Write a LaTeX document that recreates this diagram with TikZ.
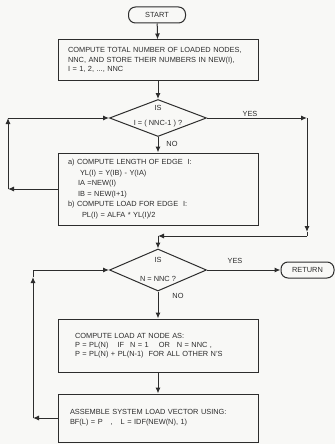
\documentclass[tikz,border=0pt]{standalone}
\usepackage{fontspec}
\setmainfont{Liberation Sans}
\usetikzlibrary{shapes.geometric,arrows.meta}
\definecolor{ink}{RGB}{45,45,45}
\definecolor{paper}{RGB}{248,248,246}
\begin{document}
\begin{tikzpicture}[x=1pt,y=-1pt,line width=1pt,
  txt/.style={font=\fontsize{7.4}{9.2}\selectfont,text=ink},
  box/.style={txt,draw=ink,rectangle,minimum width=200pt,inner sep=0pt,align=left},
  term/.style={txt,draw=ink,rectangle,rounded corners=7pt,inner sep=0pt,minimum height=16pt},
  dec/.style={draw=ink,diamond,inner sep=0pt,minimum width=97pt},
  lbl/.style={txt,inner sep=0pt},
  arr/.style={draw=ink,-{Latex[length=6pt,width=5pt]}},
  ln/.style={draw=ink}]
\fill[paper] (0,0) rectangle (335,444);
\useasboundingbox (0,0) rectangle (335,444);

% nodes
\node[term,minimum width=57pt] (start) at (157,15) {START};
\node[box,minimum height=40pt,text width=180pt] (b1) at (158,60)
  {COMPUTE TOTAL NUMBER OF LOADED NODES,\\
   NNC, AND STORE THEIR NUMBERS IN NEW(I),\\
   I = 1, 2, ..., NNC};
\node[dec,minimum height=37pt] (d1) at (158,118) {};
\node[lbl] (d1a) at (158,108) {IS};
\node[lbl] (d1b) at (158,124) {I = ( NNC-1 ) ?};
\node[box,minimum height=72pt,text width=180pt,font=\fontsize{7.4}{10.6}\selectfont] (b2) at (158,189)
  {a) COMPUTE LENGTH OF EDGE\ \ I:\\
   \hspace*{12pt}YL(I) = Y(IB) - Y(IA)\\
   \hspace*{10pt}IA =NEW(I)\\
   \hspace*{10pt}IB = NEW(I+1)\\
   b) COMPUTE LOAD FOR EDGE\ \ I:\\
   \hspace*{14pt}PL(I) = ALFA * YL(I)/2};
\node[dec,minimum height=42pt] (d2) at (158,270) {};
\node[lbl] (d2a) at (158,260) {IS};
\node[lbl] (d2b) at (158,279) {N = NNC ?};
\node[term,minimum width=53pt] (ret) at (307.5,270) {RETURN};
\node[box,minimum height=53pt,text width=166pt,font=\fontsize{7.4}{8.9}\selectfont] (b3) at (158,345.5)
  {COMPUTE LOAD AT NODE AS:\\
   P = PL(N)\hspace{9pt}IF\hspace{6pt}N = 1\hspace{10pt}OR\hspace{7pt}N = NNC ,\\
   P = PL(N) + PL(N-1)\hspace{5pt}FOR ALL OTHER N'S};
\node[box,minimum height=48pt,text width=176pt,font=\fontsize{7.4}{10.3}\selectfont] (b4) at (158,418)
  {ASSEMBLE SYSTEM LOAD VECTOR USING:\\
   BF(L) = P\hspace{8pt},\hspace{8pt}L = IDF(NEW(N), 1)};

% labels
\node[lbl] (y1) at (250,114) {YES};
\node[lbl] (n1) at (172,144) {NO};
\node[lbl] (y2) at (235,261) {YES};
\node[lbl] (n2) at (178,296) {NO};

% corner coordinates
\coordinate (c1) at (307,118);
\coordinate (c2a) at (307,232);
\coordinate (c2) at (307,236);
\coordinate (c3) at (158,236);
\coordinate (c4) at (8,189);
\coordinate (c5) at (8,118);
\coordinate (c6) at (33,418);
\coordinate (c6a) at (33,277);
\coordinate (c7) at (33,270);

% connectors
\draw[arr] (start) -- (b1);
\draw[arr] (b1) -- (d1);
\draw[arr] (d1) -- (b2);
\draw[arr] (d1.east) -- (c1);
\draw[arr] (c1) -- (c2a);
\draw[ln] (c2a) -- (c2);
\draw[arr] (c2) -- (c3);
\draw[arr] (c3) -- (d2.north);
\draw[arr] (b2.west) -- (c4);
\draw[arr] (c4) -- (c5);
\draw[arr] (c5) -- (d1.west);
\draw[arr] (d2.east) -- (ret.west);
\draw[arr] (d2) -- (b3);
\draw[arr] (b3) -- (b4);
\draw[arr] (b4.west) -- (c6);
\draw[arr] (c6) -- (c6a);
\draw[ln] (c6a) -- (c7);
\draw[arr] (c7) -- (d2.west);
\end{tikzpicture}
\end{document}
